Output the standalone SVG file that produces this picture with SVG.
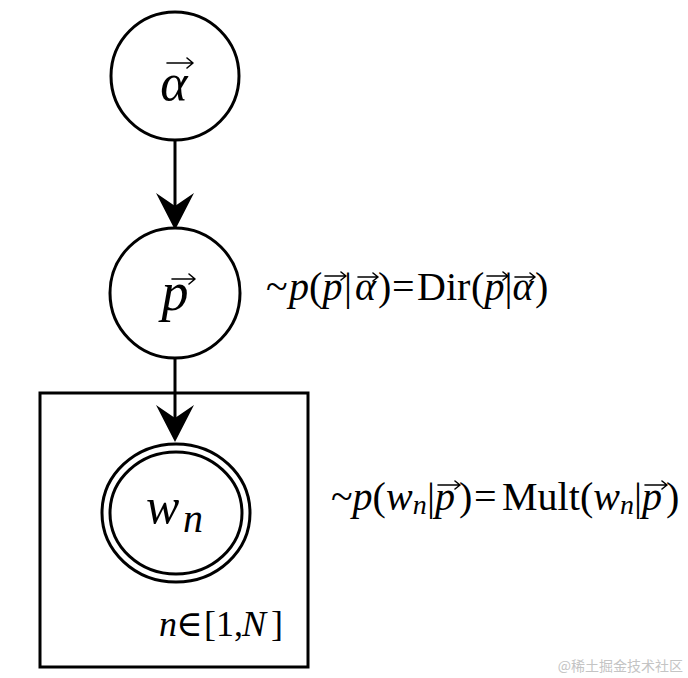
<svg xmlns="http://www.w3.org/2000/svg" width="688" height="678" viewBox="0 0 688 678">
<defs>
<style>
.n{fill:#fff;stroke:#000;stroke-width:3}
.e{stroke:#000;stroke-width:3;fill:none}
.v{stroke:#000;stroke-width:1.6;fill:none;stroke-linecap:round;stroke-linejoin:round}
text{font-family:"Liberation Serif","Times New Roman","DejaVu Serif",serif;fill:#000}
.i{font-style:italic}
</style>
<marker id="ah" viewBox="0 0 37 38" refX="13" refY="19" markerWidth="37" markerHeight="38" markerUnits="userSpaceOnUse" orient="auto">
<path d="M0,0 L37,19 L0,38 L13,19 Z" fill="#000"/>
</marker>
</defs>
<rect width="688" height="678" fill="#fff"/>
<g id="plate">
<rect x="40" y="393" width="268" height="274" fill="none" stroke="#000" stroke-width="3"/>
<text font-family="Liberation Serif, serif" font-size="36" y="636"><tspan class="i" x="159">n</tspan><tspan x="176">∈</tspan><tspan x="204">[1,</tspan><tspan class="i" x="242">N</tspan><tspan x="271">]</tspan></text>
</g>
<g id="connectors">
<path class="e" d="M175,140 L175,206" marker-end="url(#ah)"/>
<path class="e" d="M175,358 L175,418" marker-end="url(#ah)"/>
</g>
<g id="alpha">
<circle class="n" cx="175" cy="76" r="64"/>
<text class="i" x="174" y="100" font-size="52" text-anchor="middle" font-family="Liberation Serif, serif">α</text>
<path class="v" d="M167,63 H193 M187,58 L193,63 L187,68"/>
</g>
<g id="p">
<circle class="n" cx="175" cy="293" r="65"/>
<text class="i" x="175" y="310" font-size="54" text-anchor="middle" font-family="Liberation Serif, serif">p</text>
<path class="v" d="M172,279 H195 M189,274 L195,279 L189,284"/>
</g>
<g id="p-label">
<text font-size="40" y="300" font-family="Liberation Serif, serif"><tspan x="266">~</tspan><tspan class="i" x="289">p</tspan><tspan x="309">(</tspan><tspan class="i" x="322.5">p</tspan><tspan x="344">|</tspan><tspan class="i" x="355">α</tspan><tspan x="378">)</tspan><tspan x="392">=</tspan><tspan x="417">Dir</tspan><tspan x="471">(</tspan><tspan class="i" x="484.5">p</tspan><tspan x="504.5">|</tspan><tspan class="i" x="512.5">α</tspan><tspan x="535">)</tspan></text>
<path class="v" d="M325,276 H346 M341,272 L346,276 L341,280 M358,277 H378 M373,273 L378,277 L373,281 M487,276 H508 M503,272 L508,276 L503,280 M515,277 H535 M530,273 L535,277 L530,281"/>
</g>
<g id="wn">
<ellipse class="n" cx="176" cy="513" rx="74" ry="69"/>
<ellipse class="n" cx="176" cy="513" rx="66" ry="61"/>
<text font-family="Liberation Serif, serif" class="i"><tspan x="146" y="523" font-size="50">w</tspan><tspan x="183" y="532" font-size="40">n</tspan></text>
</g>
<g id="wn-label">
<text font-size="40" y="510" font-family="Liberation Serif, serif"><tspan x="331">~</tspan><tspan class="i" x="352.6">p</tspan><tspan x="372.6">(</tspan><tspan class="i" x="386">w</tspan><tspan class="i" x="412.7" y="514" font-size="28">n</tspan><tspan x="427" y="510">|</tspan><tspan class="i" x="435">p</tspan><tspan x="459">)</tspan><tspan x="474">=</tspan><tspan x="502">Mult</tspan><tspan x="580">(</tspan><tspan class="i" x="593.3">w</tspan><tspan class="i" x="620" y="514" font-size="28">n</tspan><tspan x="634" y="510">|</tspan><tspan class="i" x="642">p</tspan><tspan x="666">)</tspan></text>
<path class="v" d="M438,485 H460 M455,481 L460,485 L455,489 M645,485 H667 M662,481 L667,485 L662,489"/>
</g>
<text x="683" y="671" font-size="14" text-anchor="end" font-family="Noto Sans CJK SC, Liberation Sans, sans-serif" style="fill:#c4c4c4;font-family:'Noto Sans CJK SC','Liberation Sans',sans-serif">@稀土掘金技术社区</text>
</svg>
